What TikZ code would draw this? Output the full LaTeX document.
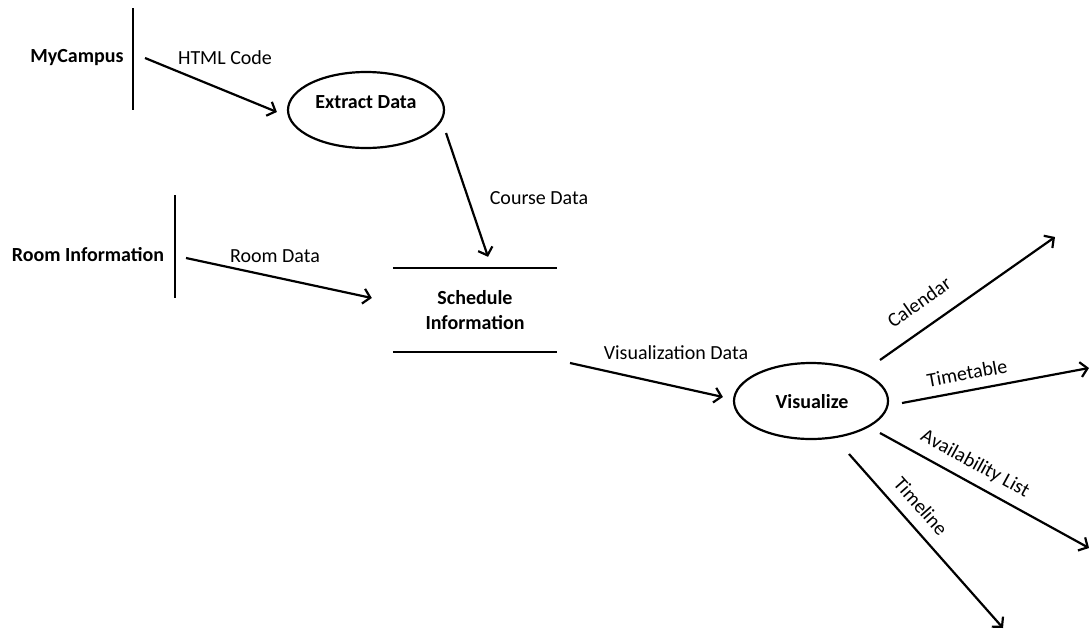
\documentclass[tikz,border=0pt]{standalone}
\usepackage{fontspec}
\setmainfont{Carlito}
\usetikzlibrary{arrows.meta,shapes.geometric}
\begin{document}
\begin{tikzpicture}[x=1pt,y=-1pt,
  every node/.style={font=\fontsize{20}{25}\selectfont},
  entity/.style={font=\fontsize{20}{25}\selectfont\bfseries, inner sep=0pt},
  bar/.style={line width=2.6pt},
  flow/.style={line width=2.2pt, -{Straight Barb[length=7pt,width=15pt,line width=2.2pt]}},
  lab/.style={inner sep=0pt, font=\fontsize{20}{25}\selectfont},
  proc/.style={ellipse, draw, line width=2.2pt, inner sep=0pt},
  store/.style={minimum width=164pt, minimum height=84pt, inner sep=0pt, align=center, font=\fontsize{20}{25}\selectfont\bfseries}
]
\useasboundingbox (0,0) rectangle (1091,632);

% external entities
\node[entity] (mycampus) at (77,58) {MyCampus};
\coordinate (mcbarT) at (133,8);
\coordinate (mcbarB) at (133,110);
\draw[bar] (mcbarT) -- (mcbarB);

\node[entity] (roominfo) at (88,255) {Room Information};
\coordinate (rbarT) at (175,195);
\coordinate (rbarB) at (175,298);
\draw[bar] (rbarT) -- (rbarB);

% processes
\node[proc, minimum width=156pt, minimum height=76pt] (extract) at (366,110) {};
\node[entity] (extractlab) at (366,102) {Extract Data};

\node[proc, minimum width=154pt, minimum height=76pt] (vis) at (811,401) {};
\node[entity] (vislab) at (812,402) {Visualize};

% data store
\node[store] (sched) at (475,310) {Schedule\\Information};
\draw[line width=2.2pt] (sched.north west) -- (sched.north east);
\draw[line width=2.2pt] (sched.south west) -- (sched.south east);

% flows
\coordinate (mcout) at (145,58);
\draw[flow] (mcout) -- ([shift={(-10,2)}]extract.west);
\node[lab] (htmllab) at (225,58) {HTML Code};

\coordinate (exout) at (446,133);
\draw[flow] (exout) -- ([shift={(13,-11)}]sched.north);
\node[lab] (courselab) at (539,198) {Course Data};

\coordinate (rout) at (186,258);
\draw[flow] (rout) -- ([shift={(-21,-12)}]sched.west);
\node[lab] (roomlab) at (275,256) {Room Data};

\coordinate (schout) at (570,363);
\draw[flow] (schout) -- ([shift={(-10,-4)}]vis.west);
\node[lab] (vdlab) at (676,353) {Visualization Data};

% outputs of Visualize
\coordinate (calS) at (880,360);
\coordinate (calE) at (1055,237);
\draw[flow] (calS) -- (calE);
\node[lab, rotate=35.1] (callab) at (919,302) {Calendar};

\coordinate (ttS) at (902,403);
\coordinate (ttE) at (1089,368);
\draw[flow] (ttS) -- (ttE);
\node[lab, rotate=10.5] (ttlab) at (967,373) {Timetable};

\coordinate (avS) at (880,433);
\coordinate (avE) at (1089,548);
\draw[flow] (avS) -- (avE);
\node[lab, rotate=-28.6] (avlab) at (975,464) {Availability List};

\coordinate (tlS) at (849,454);
\coordinate (tlE) at (1003,628);
\draw[flow] (tlS) -- (tlE);
\node[lab, rotate=-48.5] (tllab) at (921,506) {Timeline};
\end{tikzpicture}
\end{document}
